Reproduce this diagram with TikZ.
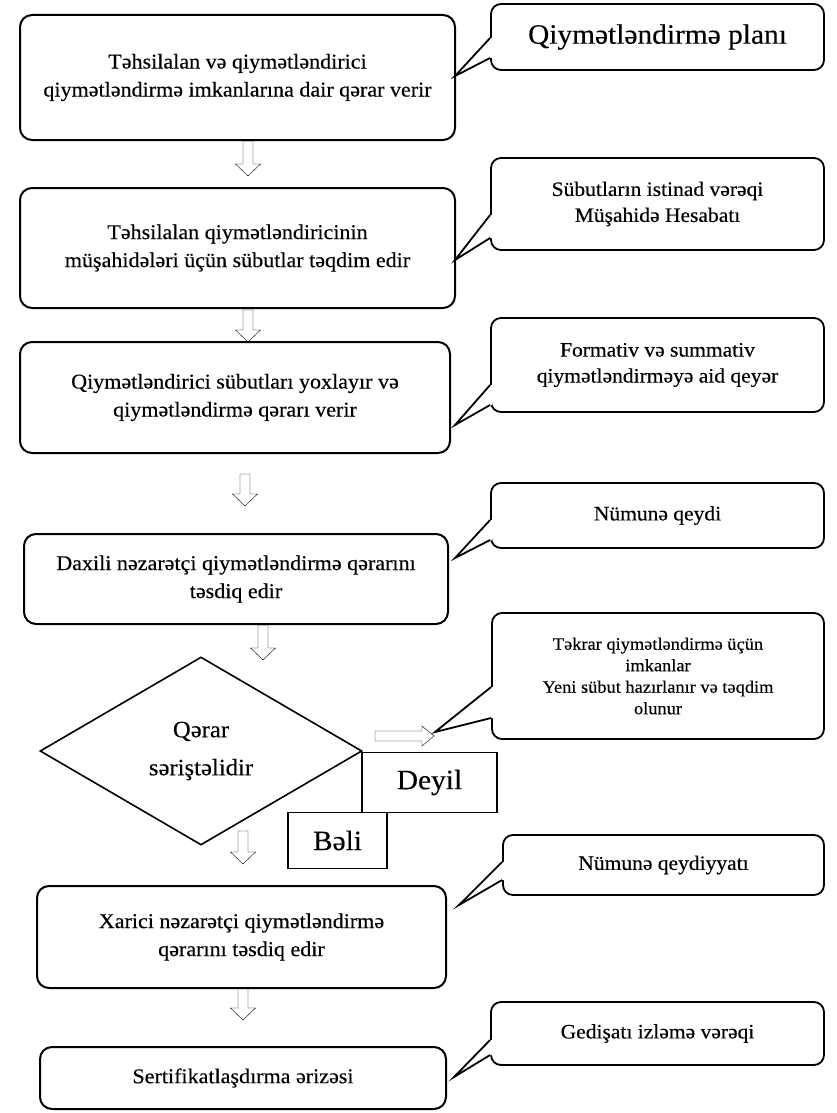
\documentclass[tikz,border=0pt]{standalone}
\usepackage{fontspec}
\setmainfont[FakeStretch=1.05,FakeBold=0.3]{Liberation Serif}
\usetikzlibrary{shapes.geometric,calc}

\begin{document}
\begin{tikzpicture}[x=1pt,y=-1pt]
    \tikzset{
        box/.style={draw, line width=2pt, rounded corners=12pt, align=center, inner sep=0pt,
                    font=\fontsize{21}{28}\selectfont},
        note/.style={draw, line width=1.8pt, rounded corners=10pt, align=center, inner sep=0pt,
                     minimum width=333pt, font=\fontsize{20.5}{26}\selectfont},
        answer/.style={draw, line width=1.5pt, inner sep=0pt, font=\fontsize{28}{32}\selectfont},
        decision/.style={draw, diamond, aspect=1.7, line width=1.6pt, inner sep=0pt, align=center,
                         minimum width=322pt, minimum height=188pt, font=\fontsize{23.5}{38}\selectfont},
        fatdown/.style={line width=1.6pt, fill=white, to path={
            ($(\tikztostart)+(-5pt,0pt)$) -- ($(\tikztotarget)+(-5pt,12pt)$)
            -- ($(\tikztotarget)+(-12.5pt,12pt)$) -- (\tikztotarget)
            -- ($(\tikztotarget)+(12.5pt,12pt)$) -- ($(\tikztotarget)+(5pt,12pt)$)
            -- ($(\tikztostart)+(5pt,0pt)$) -- cycle}},
        fatright/.style={line width=1.6pt, fill=white, to path={
            ($(\tikztostart)+(0pt,5pt)$) -- ($(\tikztotarget)+(-12pt,5pt)$)
            -- ($(\tikztotarget)+(-12pt,10pt)$) -- (\tikztotarget)
            -- ($(\tikztotarget)+(-12pt,-10pt)$) -- ($(\tikztotarget)+(-12pt,-5pt)$)
            -- ($(\tikztostart)+(0pt,-5pt)$) -- cycle}},
        notetip/.style={line width=1.8pt, line join=miter}
    }
    \useasboundingbox[fill=white] (0,0) rectangle (837,1113);

    % main steps
    \draw node[box, minimum width=435pt, minimum height=125pt] (b1) at (237.5,77.5)
        {Təhsilalan və qiymətləndirici\\qiymətləndirmə imkanlarına dair qərar verir};
    \draw node[box, minimum width=435pt, minimum height=120pt] (b2) at (237.5,248)
        {Təhsilalan qiymətləndiricinin\\müşahidələri üçün sübutlar təqdim edir};
    \draw node[box, minimum width=430pt, minimum height=111pt] (b3) at (235,397.5)
        {Qiymətləndirici sübutları yoxlayır və\\qiymətləndirmə qərarı verir};
    \draw node[box, minimum width=424pt, minimum height=90pt] (b4) at (236,579)
        {Daxili nəzarətçi qiymətləndirmə qərarını\\təsdiq edir};
    \draw node[decision] (q) at (201,751) {Qərar\\səriştəlidir};
    \draw node[answer, minimum width=135pt, minimum height=60pt] (no) at (429.5,782.5) {Deyil};
    \draw node[answer, minimum width=99pt, minimum height=56pt] (yes) at (337.5,840.5) {Bəli};
    \draw node[box, minimum width=409pt, minimum height=102pt] (b5) at (241.5,937)
        {Xarici nəzarətçi qiymətləndirmə\\qərarını təsdiq edir};
    \draw node[box, minimum width=406pt, minimum height=62pt] (b6) at (243,1078)
        {Sertifikatlaşdırma ərizəsi};

    % notes on the right
    \draw node[note, minimum height=66pt, font=\fontsize{28}{32}\selectfont] (c1) at (657.5,37)
        {Qiymətləndirmə planı};
    \draw node[note, minimum height=92pt] (c2) at (657.5,204)
        {Sübutların istinad vərəqi\\Müşahidə Hesabatı};
    \draw node[note, minimum height=94pt] (c3) at (657.5,365)
        {Formativ və summativ\\qiymətləndirməyə aid qeyər};
    \draw node[note, minimum height=65pt] (c4) at (657.5,515.5) {Nümunə qeydi};
    \draw node[note, minimum width=332pt, minimum height=126pt, font=\fontsize{17.5}{21.5}\selectfont] (c5) at (658,676)
        {Təkrar qiymətləndirmə üçün\\imkanlar\\Yeni sübut hazırlanır və təqdim\\olunur};
    \draw node[note, minimum width=321pt, minimum height=60pt] (c6) at (663.5,865) {Nümunə qeydiyyatı};
    \draw node[note, minimum height=63pt] (c7) at (657.5,1033.5) {Gedişatı izləmə vərəqi};

    % arrow ends and note tips
    \coordinate (a1s) at (248,141);  \coordinate (a1e) at (248,176);
    \coordinate (a2s) at (248,310);  \coordinate (a2e) at (248,342);
    \coordinate (a3s) at (245,474);  \coordinate (a3e) at (245,506);
    \coordinate (a4s) at (263,625);  \coordinate (a4e) at (263,660);
    \coordinate (a5s) at (243,831);  \coordinate (a5e) at (243,864);
    \coordinate (a6s) at (243,988);  \coordinate (a6e) at (243,1020);
    \coordinate (ars) at (375,736);  \coordinate (are) at (434,736);
    \coordinate (t1) at (455,76);
    \coordinate (t2) at (455,260);
    \coordinate (t3) at (455,425);
    \coordinate (t4) at (455,558);
    \coordinate (t5) at (435,732);
    \coordinate (t6) at (459,905);
    \coordinate (t7) at (454,1077);

    \foreach \x/\y in {%
        a1s/a1e,a2s/a2e,a3s/a3e,a4s/a4e,a5s/a5e,a6s/a6e%
    }
    {
        \draw (\x) to[fatdown] (\y);
    }
    \draw (ars) to[fatright] (are);

    \foreach \c/\t/\ya/\yb in {%
        c1/t1/38/58,c2/t2/215/238,c3/t3/385/405,c4/t4/520/540,%
        c5/t5/687/718,c6/t6/862/880,c7/t7/1040/1055%
    }
    {
        \fill[white] ($(\c.west |- 0,\ya)+(1.8pt,0)$) -- (\c.west |- 0,\ya) -- (\t)
            -- (\c.west |- 0,\yb) -- ($(\c.west |- 0,\yb)+(1.8pt,0)$) -- cycle;
        \draw[notetip] (\c.west |- 0,\ya) -- (\t) -- (\c.west |- 0,\yb);
    }
\end{tikzpicture}
\end{document}
